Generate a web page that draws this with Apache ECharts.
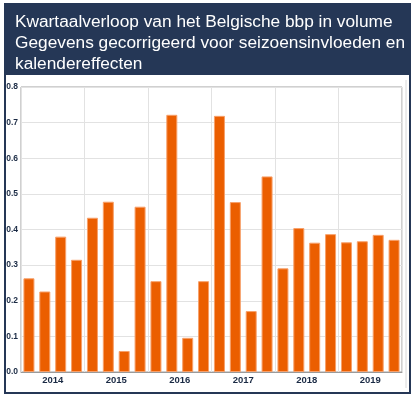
<!DOCTYPE html>
<html><head><meta charset="utf-8">
<script src="https://cdn.jsdelivr.net/npm/echarts@6/dist/echarts.min.js"></script>
<style>html,body{margin:0;padding:0;background:#fff}#c{width:416px;height:399px}</style>
</head><body><div id="c"></div>
<script>
const titleLines = ['Kwartaalverloop van het Belgische bbp in volume','Gegevens gecorrigeerd voor seizoensinvloeden en','kalendereffecten'];
const years = ['2014','2015','2016','2017','2018','2019'];
const quarters = ['2014Q1','2014Q2','2014Q3','2014Q4','2015Q1','2015Q2','2015Q3','2015Q4','2016Q1','2016Q2','2016Q3','2016Q4','2017Q1','2017Q2','2017Q3','2017Q4','2018Q1','2018Q2','2018Q3','2018Q4','2019Q1','2019Q2','2019Q3','2019Q4'];
const growth = [0.263,0.226,0.380,0.315,0.433,0.478,0.059,0.464,0.255,0.722,0.096,0.255,0.719,0.477,0.171,0.549,0.291,0.404,0.363,0.387,0.364,0.367,0.385,0.371];
const yTicks = {min:0, max:0.8, interval:0.1};

const navy = '#253756';
const chart = echarts.init(document.getElementById('c'), null, {renderer:'canvas'});
chart.setOption({
  animation:false,
  graphic:[
    {type:'rect', shape:{x:5,y:4,width:405,height:389}, style:{fill:'#fff', stroke:navy, lineWidth:2}, z:-10},
    {type:'rect', shape:{x:5,y:4,width:405,height:71}, style:{fill:navy}, z:-9},
    {type:'line', shape:{x1:406,y1:80,x2:406,y2:388}, style:{stroke:'#d8d8d8', lineWidth:1}, z:-8}
  ],
  title:{
    text:titleLines.join('\n'), left:10, top:7,
    textStyle:{color:'#fff', fontFamily:'Liberation Sans', fontSize:17.3, fontWeight:'normal', lineHeight:21}
  },
  grid:{left:21, right:14, top:87, bottom:27, show:true, borderColor:'#a0a0a0', borderWidth:1},
  xAxis:[
    {type:'category', data:quarters, boundaryGap:true,
     axisLine:{show:true, lineStyle:{color:'#9a9a9a'}}, axisTick:{show:false}, axisLabel:{show:false}, splitLine:{show:false}},
    {type:'category', data:years, position:'bottom', boundaryGap:true,
     axisLine:{show:false}, axisTick:{show:false},
     axisLabel:{color:'#1a2a44', fontFamily:'Liberation Sans', fontSize:9.5, fontWeight:'bold', margin:3},
     splitLine:{show:true, lineStyle:{color:'#e2e2e2', width:1}}}
  ],
  yAxis:{type:'value', min:yTicks.min, max:yTicks.max, interval:yTicks.interval,
    axisLine:{show:false}, axisTick:{show:false},
    axisLabel:{color:'#1a2a44', fontFamily:'Liberation Sans', fontSize:8.5, fontWeight:'bold', margin:3, formatter:v=>v.toFixed(1)},
    splitLine:{show:true, lineStyle:{color:'#e2e2e2', width:1}}},
  series:[{type:'bar', xAxisIndex:0, data:growth, barWidth:11,
    itemStyle:{color:'#eb5e00', borderColor:'#f7a06a', borderWidth:1}}]
});
</script></body></html>
